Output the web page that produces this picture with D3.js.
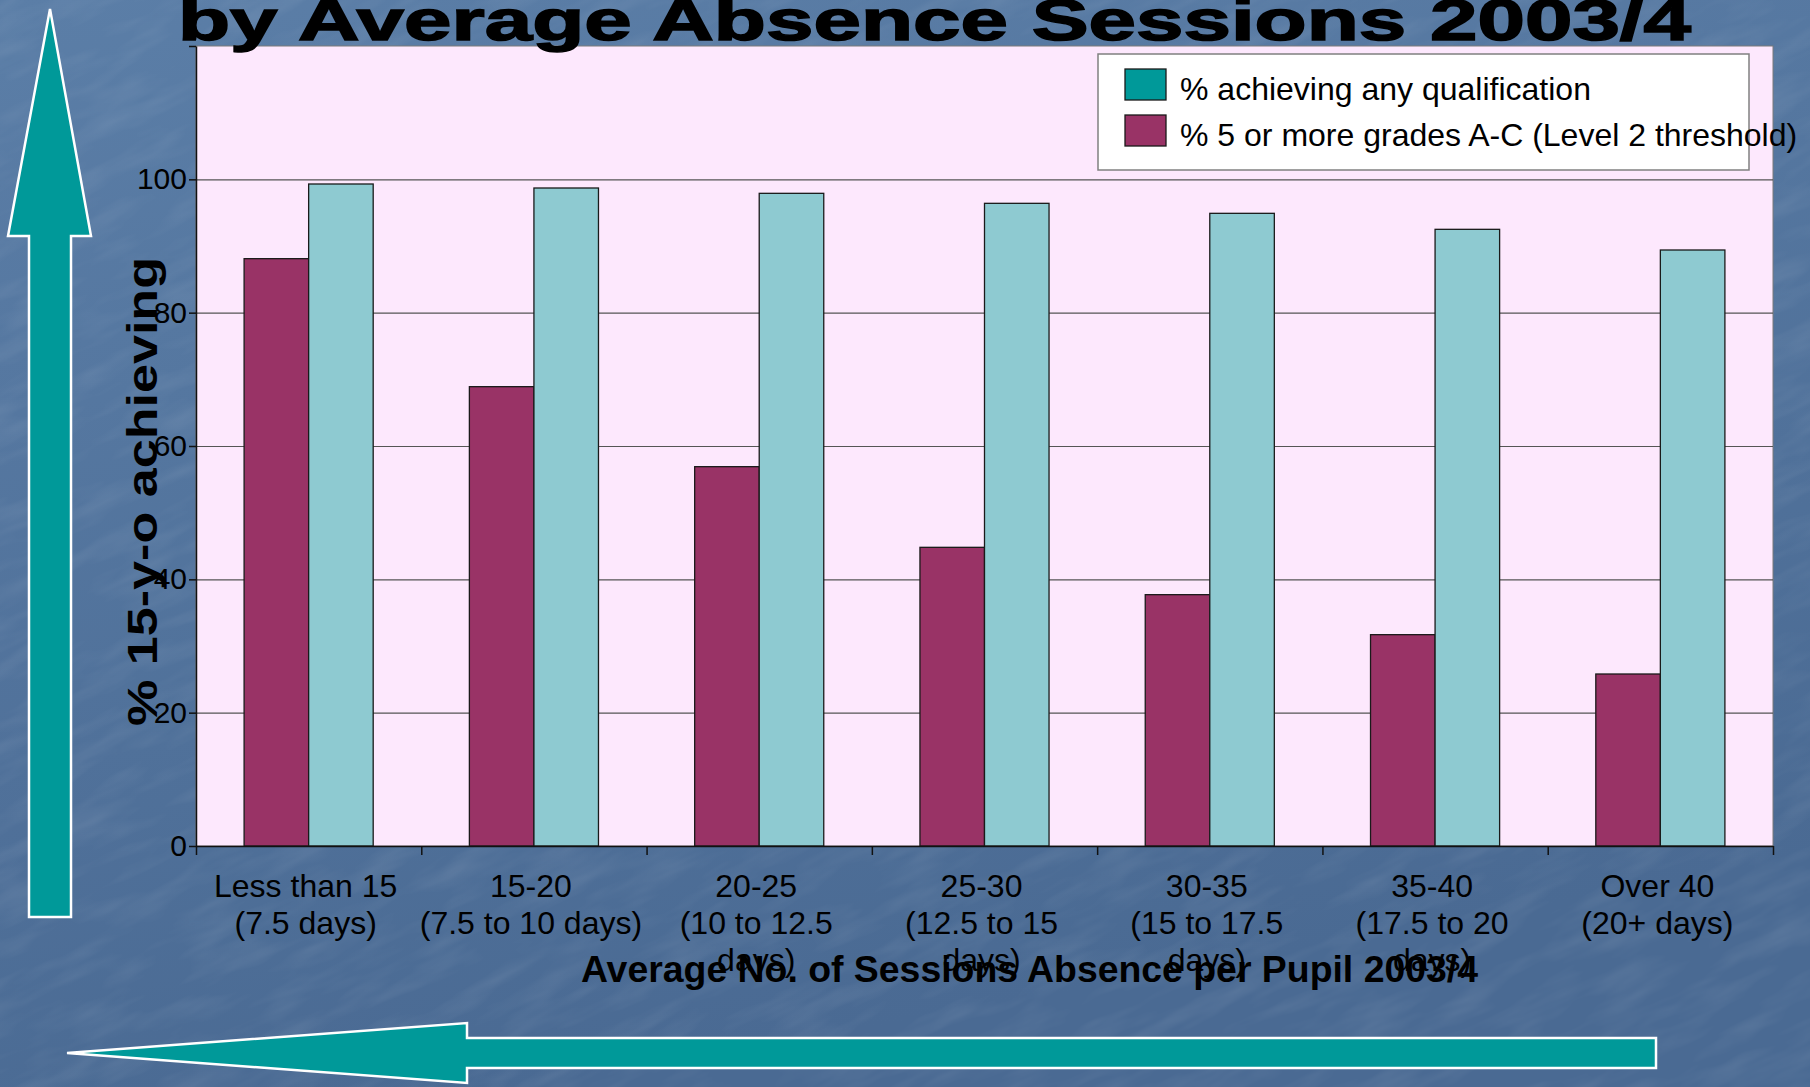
<!DOCTYPE html>
<html>
<head>
    <script src="https://d3js.org/d3.v7.min.js"></script>
    <title>Achievement by absence</title>
</head>
<style>
    body {
        margin: 0;
        overflow: hidden;
        font-family: 'Liberation Sans', Arial, sans-serif;
    }
</style>
<body>
<div id="slide"></div>
</body>
</html>

<script>
  // data
  var categories = ["lt15", "15-20", "20-25", "25-30", "30-35", "35-40", "over40"];
  var tickLabels = [
      ["Less than 15", "(7.5 days)"],
      ["15-20", "(7.5 to 10 days)"],
      ["20-25", "(10 to 12.5", "days)"],
      ["25-30", "(12.5 to 15", "days)"],
      ["30-35", "(15 to 17.5", "days)"],
      ["35-40", "(17.5 to 20", "days)"],
      ["Over 40", "(20+ days)"]
  ];
  var level2Values = [88.1, 68.9, 56.9, 44.8, 37.7, 31.7, 25.8];   // % 5 or more A-C
  var anyQualValues = [99.3, 98.7, 97.9, 96.4, 94.9, 92.5, 89.4];  // % any qualification
  var seriesNames = ["% 5 or more grades A-C (Level 2 threshold)", "% achieving any qualification"];
  var yTicks = [0, 20, 40, 60, 80, 100, 120];

  var W = 1810, H = 1087;
  var plotL = 196, plotR = 1773, plotT = 46, plotB = 846;

  var svg = d3.select("#slide").append("svg")
      .attr("width", W)
      .attr("height", H);

  //BACKGROUND (blue textured slide)
  var defs = svg.append("defs");
  var grad = defs.append("linearGradient")
      .attr("id", "bg").attr("x1", 0).attr("y1", 0).attr("x2", 0.3).attr("y2", 1);
  grad.append("stop").attr("offset", "0%").attr("stop-color", "#5b7ea7");
  grad.append("stop").attr("offset", "100%").attr("stop-color", "#4a6a93");

  var tex = defs.append("filter").attr("id", "tex")
      .attr("x", 0).attr("y", 0).attr("width", "100%").attr("height", "100%");
  tex.append("feTurbulence")
      .attr("type", "fractalNoise")
      .attr("baseFrequency", "0.012 0.05")
      .attr("numOctaves", 3)
      .attr("seed", 4);
  tex.append("feColorMatrix")
      .attr("values", "0 0 0 0 1  0 0 0 0 1  0 0 0 0 1  0 0 0 -2.2 1.25");

  svg.append("rect").attr("width", W).attr("height", H).attr("fill", "url(#bg)");
  svg.append("g").attr("transform", "rotate(-25 905 543)")
      .append("rect")
      .attr("x", -400).attr("y", -400).attr("width", W + 800).attr("height", H + 800)
      .attr("filter", "url(#tex)")
      .attr("opacity", 0.07);

  //SCALES
  var x0 = d3.scaleBand()
      .domain(categories)
      .range([plotL, plotR])
      .paddingInner(0.427)
      .paddingOuter(0.2135);

  var x1 = d3.scaleBand()
      .domain([0, 1])
      .range([0, x0.bandwidth()]);

  var edges = d3.scaleLinear()
      .domain([0, categories.length])
      .range([plotL, plotR]);

  var y = d3.scaleLinear()
      .domain([0, 120])
      .range([plotB, plotT]);

  //PLOT AREA
  svg.append("rect")
      .attr("x", plotL).attr("y", plotT)
      .attr("width", plotR - plotL).attr("height", plotB - plotT)
      .attr("fill", "#fde8fd")
      .attr("stroke", "#7a7a7a")
      .attr("stroke-width", 1);

  svg.append("g").selectAll("line")
      .data(yTicks.filter(function(d) { return d > 0 && d < 120; }))
      .enter().append("line")
      .attr("x1", plotL).attr("x2", plotR)
      .attr("y1", function(d) { return y(d) + 0.5; })
      .attr("y2", function(d) { return y(d) + 0.5; })
      .attr("stroke", "#555")
      .attr("stroke-width", 1.2);

  //TITLE (top cut off on the slide, descenders run over the plot)
  svg.append("text")
      .attr("x", 178)
      .attr("y", 40)
      .attr("textLength", 1513)
      .attr("lengthAdjust", "spacingAndGlyphs")
      .style("font-size", "58px")
      .style("font-weight", "bold")
      .style("stroke", "#000")
      .style("stroke-width", 1.5)
      .text("by Average Absence Sessions 2003/4");

  //BARS
  var groups = svg.append("g").selectAll("g")
      .data(categories)
      .enter().append("g")
      .attr("transform", function(d) { return "translate(" + x0(d) + ",0)"; });

  var barColors = ["#993366", "#8ecad1"];

  groups.selectAll("rect")
      .data(function(d, i) { return [level2Values[i], anyQualValues[i]]; })
      .enter().append("rect")
      .attr("x", function(d, j) { return x1(j); })
      .attr("y", function(d) { return y(d); })
      .attr("width", x1.bandwidth())
      .attr("height", function(d) { return plotB - y(d); })
      .attr("fill", function(d, j) { return barColors[j]; })
      .attr("stroke", "#1a1a1a")
      .attr("stroke-width", 1.3);

  //AXES
  var yAxis = svg.append("g")
      .attr("transform", "translate(" + plotL + ",0)")
      .call(d3.axisLeft(y)
          .tickValues(yTicks)
          .tickFormat(function(d) { return d === 120 ? "" : d; })
          .tickSize(7)
          .tickSizeOuter(0)
          .tickPadding(2));
  yAxis.selectAll("path, line").attr("stroke", "#111").attr("stroke-width", 1.5);
  yAxis.selectAll("text")
      .style("font-family", "'Liberation Sans', Arial, sans-serif")
      .style("font-size", "30px")
      .attr("fill", "#000");

  var xAxis = svg.append("g")
      .attr("transform", "translate(0," + plotB + ")")
      .call(d3.axisBottom(edges)
          .tickValues(d3.range(categories.length + 1))
          .tickFormat("")
          .tickSize(9)
          .tickSizeOuter(0));
  xAxis.selectAll("path, line").attr("stroke", "#111").attr("stroke-width", 1.5);

  //CATEGORY LABELS
  var catLabels = svg.append("g").selectAll("text")
      .data(categories)
      .enter().append("text")
      .attr("text-anchor", "middle")
      .attr("x", function(d) { return x0(d) + x0.bandwidth() / 2 - 3; })
      .attr("y", 897)
      .style("font-size", "32px")
      .attr("fill", "#000");

  catLabels.selectAll("tspan")
      .data(function(d, i) { return tickLabels[i]; })
      .enter().append("tspan")
      .attr("x", function() { return d3.select(this.parentNode).attr("x"); })
      .attr("dy", function(d, i) { return i === 0 ? 0 : 37; })
      .text(function(d) { return d; });

  //AXIS TITLES
  svg.append("text")
      .attr("x", 581)
      .attr("y", 982)
      .attr("textLength", 897)
      .attr("lengthAdjust", "spacingAndGlyphs")
      .style("font-size", "36px")
      .style("font-weight", "bold")
      .text("Average No. of Sessions Absence per Pupil 2003/4");

  svg.append("text")
      .attr("transform", "translate(157,726) rotate(-90)")
      .attr("textLength", 469)
      .attr("lengthAdjust", "spacingAndGlyphs")
      .style("font-size", "42px")
      .style("font-weight", "bold")
      .text("% 15-y-o achieving");

  //LEGEND
  var legend = svg.append("g");
  legend.append("rect")
      .attr("x", 1098).attr("y", 54)
      .attr("width", 651).attr("height", 116)
      .attr("fill", "#fff")
      .attr("stroke", "#808080")
      .attr("stroke-width", 1.5);

  var legendItems = [
      {"name": seriesNames[1], "color": "#009999"},
      {"name": seriesNames[0], "color": "#993366"}
  ];

  var li = legend.selectAll("g.item")
      .data(legendItems)
      .enter().append("g")
      .attr("class", "item")
      .attr("transform", function(d, i) { return "translate(0," + (i * 46) + ")"; });

  li.append("rect")
      .attr("x", 1125).attr("y", 69)
      .attr("width", 41).attr("height", 31)
      .attr("fill", function(d) { return d.color; })
      .attr("stroke", "#1a1a1a")
      .attr("stroke-width", 1.3);

  li.append("text")
      .attr("x", 1180).attr("y", 100)
      .style("font-size", "32px")
      .attr("fill", "#000")
      .text(function(d) { return d.name; });

  //ARROWS (decoration)
  var upArrow = [[50, 9], [91, 236], [71, 236], [71, 917], [29, 917], [29, 236], [8, 236]];
  var leftArrow = [[67, 1053], [467, 1023], [467, 1038], [1656, 1038], [1656, 1068], [467, 1068], [467, 1083]];

  var polygonFunction = d3.line().curve(d3.curveLinearClosed);

  svg.selectAll("path.arrow")
      .data([upArrow, leftArrow])
      .enter().append("path")
      .attr("class", "arrow")
      .attr("d", polygonFunction)
      .attr("fill", "#009999")
      .attr("stroke", "#fff")
      .attr("stroke-width", 2.5);
</script>
